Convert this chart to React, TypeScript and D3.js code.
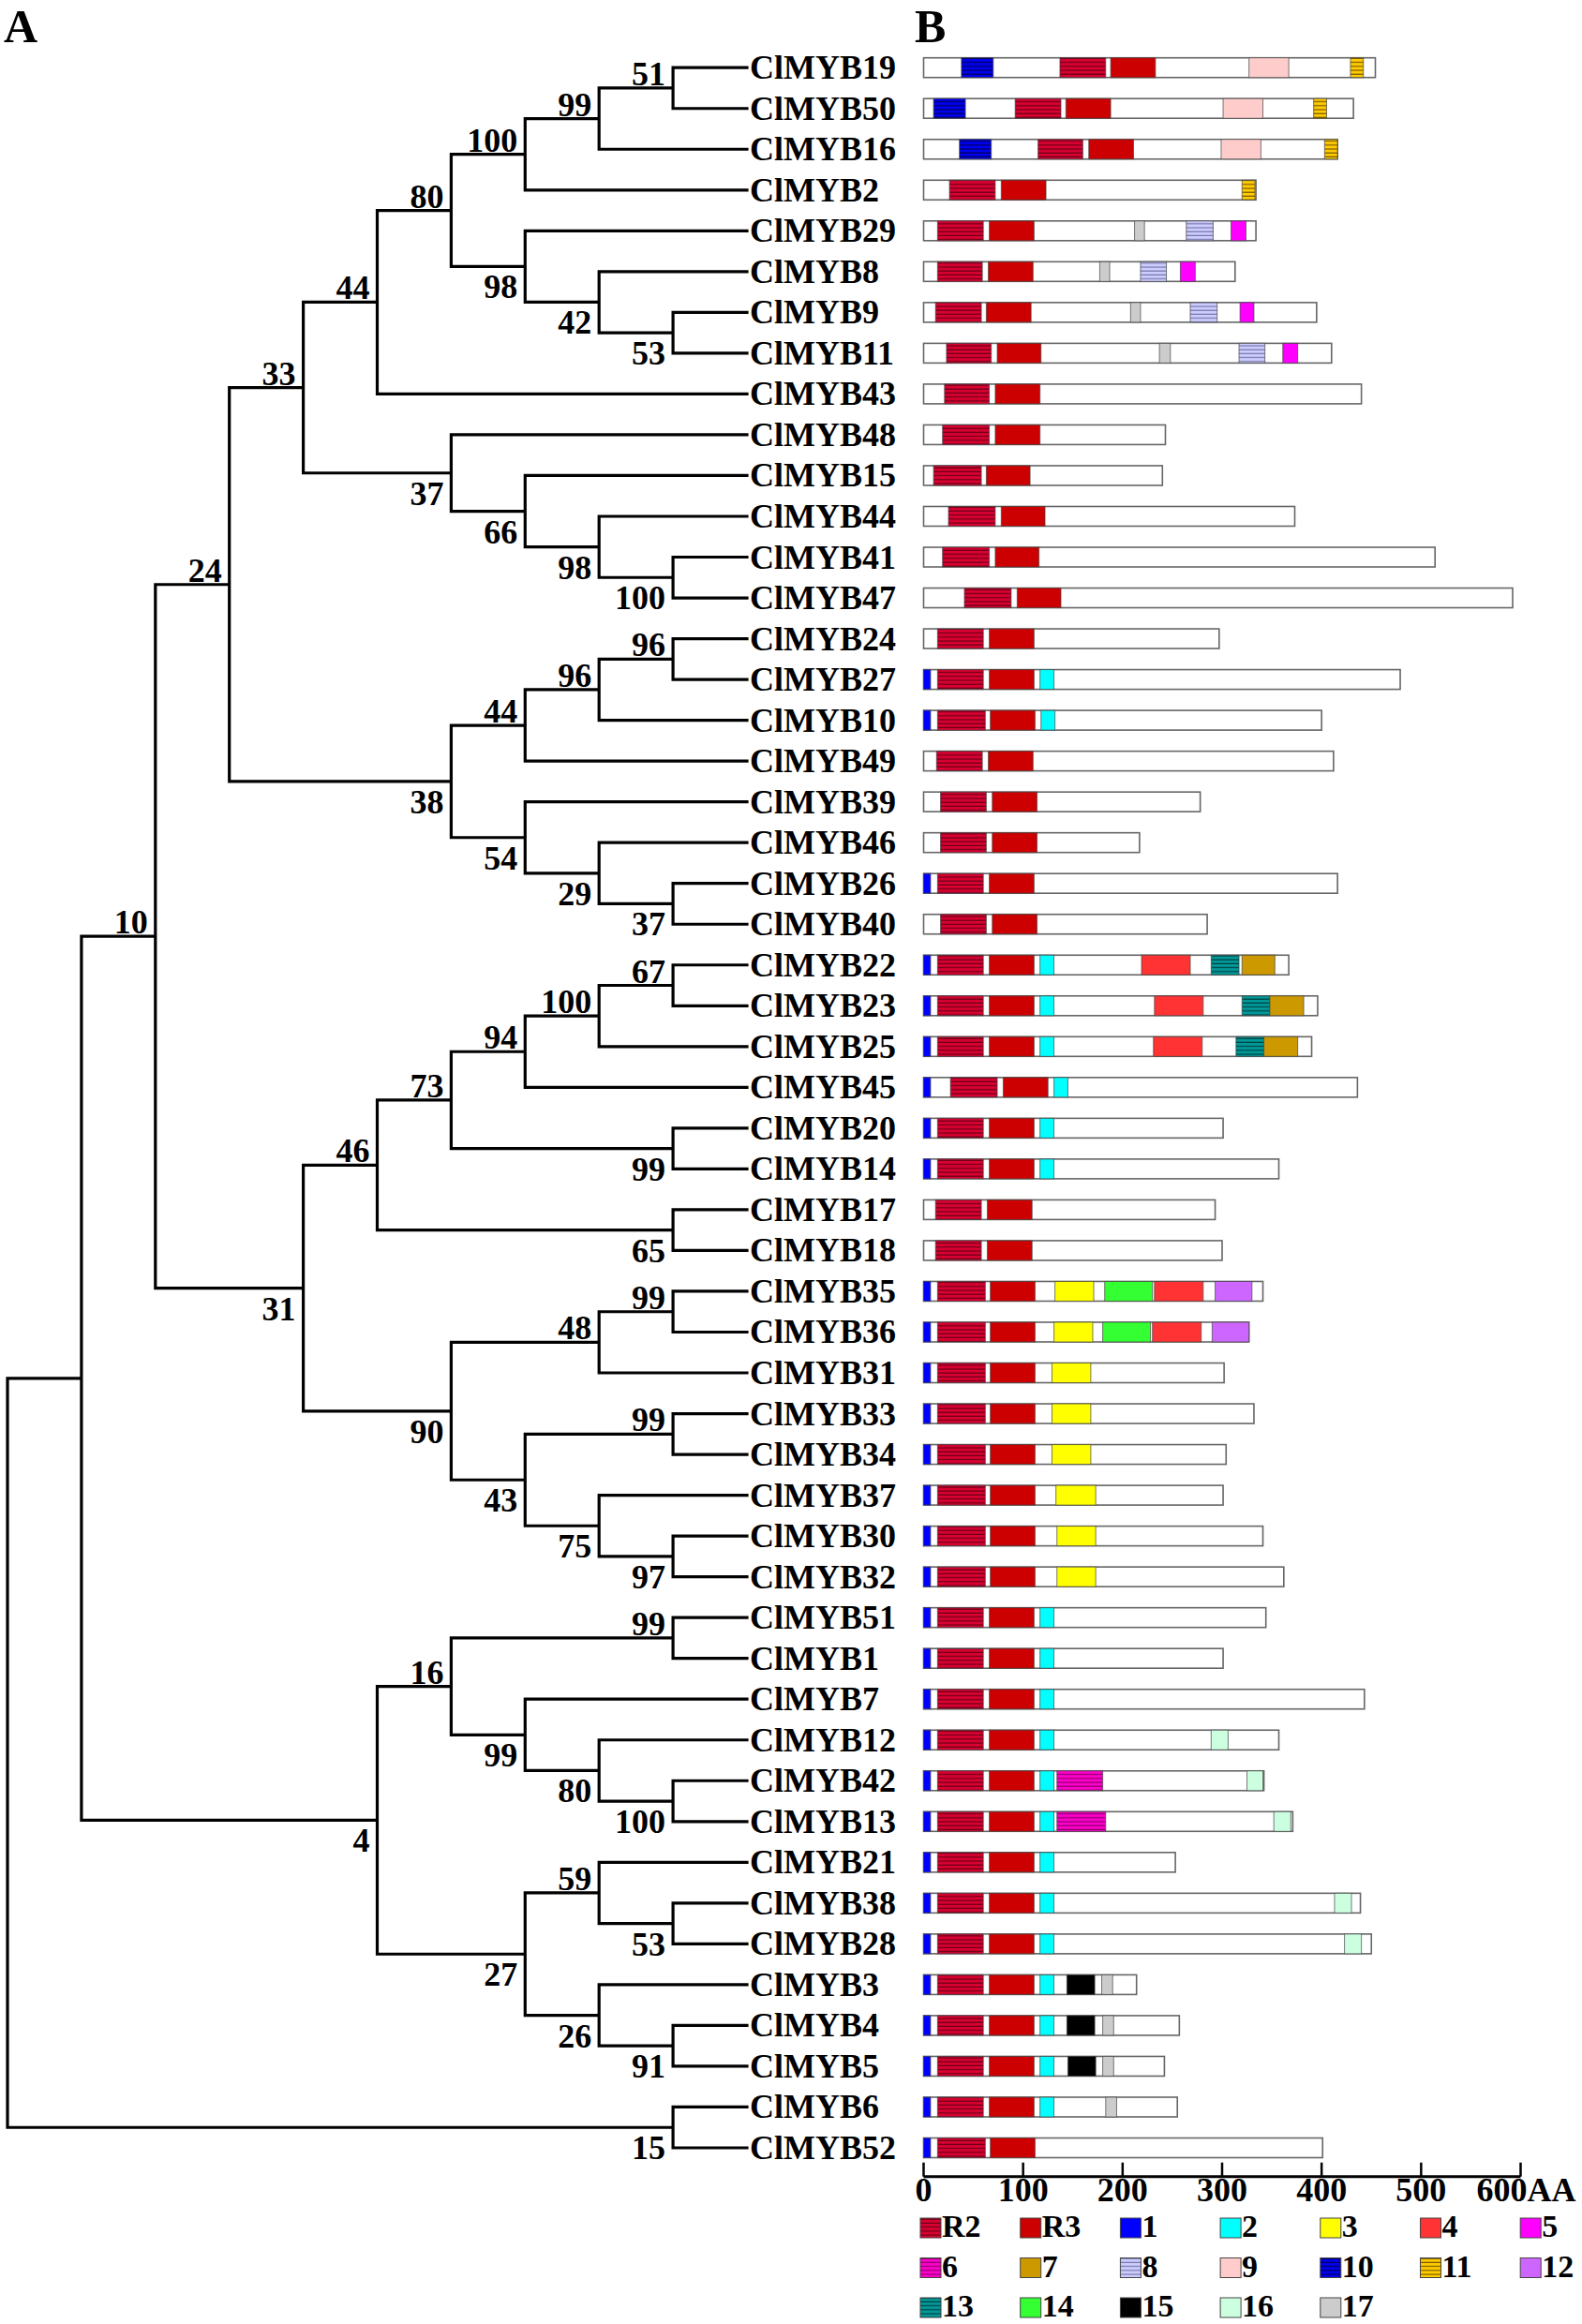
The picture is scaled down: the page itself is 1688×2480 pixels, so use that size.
import React from 'react';
import * as d3 from 'd3';

// ---------- Tree (Newick pieces with bootstrap values) ----------
const cladeA = "((((((ClMYB19,ClMYB50)51,ClMYB16)99,ClMYB2)100,(ClMYB29,(ClMYB8,(ClMYB9,ClMYB11)53)42)98)80,ClMYB43)44,(ClMYB48,(ClMYB15,(ClMYB44,(ClMYB41,ClMYB47)100)98)66)37)33";
const cladeB = "((((ClMYB24,ClMYB27)96,ClMYB10)96,ClMYB49)44,(ClMYB39,(ClMYB46,(ClMYB26,ClMYB40)37)29)54)38";
const cladeC = "((((ClMYB22,ClMYB23)67,ClMYB25)100,ClMYB45)94,(ClMYB20,ClMYB14)99)73";
const cladeD = "(((ClMYB35,ClMYB36)99,ClMYB31)48,((ClMYB33,ClMYB34)99,(ClMYB37,(ClMYB30,ClMYB32)97)75)43)90";
const cladeE = "((ClMYB51,ClMYB1)99,(ClMYB7,(ClMYB12,(ClMYB42,ClMYB13)100)80)99)16";
const cladeF = "((ClMYB21,(ClMYB38,ClMYB28)53)59,(ClMYB3,(ClMYB4,ClMYB5)91)26)27";
const newickTree = `((((${cladeA},${cladeB})24,((${cladeC},(ClMYB17,ClMYB18)65)46,${cladeD})31)10,(${cladeE},${cladeF})4),(ClMYB6,ClMYB52)15)`;

// ---------- Protein lengths (aa), in tree order ----------
const genes = ["ClMYB19","ClMYB50","ClMYB16","ClMYB2","ClMYB29","ClMYB8","ClMYB9","ClMYB11","ClMYB43","ClMYB48","ClMYB15","ClMYB44","ClMYB41","ClMYB47","ClMYB24","ClMYB27","ClMYB10","ClMYB49","ClMYB39","ClMYB46","ClMYB26","ClMYB40","ClMYB22","ClMYB23","ClMYB25","ClMYB45","ClMYB20","ClMYB14","ClMYB17","ClMYB18","ClMYB35","ClMYB36","ClMYB31","ClMYB33","ClMYB34","ClMYB37","ClMYB30","ClMYB32","ClMYB51","ClMYB1","ClMYB7","ClMYB12","ClMYB42","ClMYB13","ClMYB21","ClMYB38","ClMYB28","ClMYB3","ClMYB4","ClMYB5","ClMYB6","ClMYB52"];
const proteinLength = [454,432,416,334,334,313,395,410,440,243,240,373,514,592,297,479,400,412,278,217,416,285,367,396,390,436,301,357,293,300,341,327,302,332,304,301,341,362,344,301,443,357,342,371,253,439,450,214,257,242,255,401];

// ---------- Motif hits: [gene, motif, start, end] ----------
const motifHits: [string, string, number, number][] = [
  ["ClMYB19","10",38,70],["ClMYB19","R2",137,183],["ClMYB19","R3",188,233],["ClMYB19","9",327,367],["ClMYB19","11",429,442],
  ["ClMYB50","10",10,42],["ClMYB50","R2",92,138],["ClMYB50","R3",143,188],["ClMYB50","9",301,341],["ClMYB50","11",392,405],
  ["ClMYB16","10",36,68],["ClMYB16","R2",115,160],["ClMYB16","R3",166,211],["ClMYB16","9",299,339],["ClMYB16","11",403,416],
  ["ClMYB2","R2",26,72],["ClMYB2","R3",78,123],["ClMYB2","11",320,333],
  ["ClMYB29","R2",14,60],["ClMYB29","R3",66,111],["ClMYB29","17",212,222],["ClMYB29","8",264,291],["ClMYB29","5",309,324],
  ["ClMYB8","R2",14,59],["ClMYB8","R3",65,110],["ClMYB8","17",177,187],["ClMYB8","8",218,244],["ClMYB8","5",258,273],
  ["ClMYB9","R2",12,58],["ClMYB9","R3",63,108],["ClMYB9","17",208,218],["ClMYB9","8",268,295],["ClMYB9","5",318,332],
  ["ClMYB11","R2",23,68],["ClMYB11","R3",74,118],["ClMYB11","17",237,248],["ClMYB11","8",317,343],["ClMYB11","5",361,376],
  ["ClMYB43","R2",21,66],["ClMYB43","R3",72,117],
  ["ClMYB48","R2",19,66],["ClMYB48","R3",72,117],
  ["ClMYB15","R2",10,58],["ClMYB15","R3",63,107],
  ["ClMYB44","R2",25,72],["ClMYB44","R3",78,122],
  ["ClMYB41","R2",19,66],["ClMYB41","R3",72,116],
  ["ClMYB47","R2",41,88],["ClMYB47","R3",94,138],
  ["ClMYB24","R2",14,60],["ClMYB24","R3",66,111],
  ["ClMYB27","1",0,7],["ClMYB27","R2",14,60],["ClMYB27","R3",66,111],["ClMYB27","2",117,131],
  ["ClMYB10","1",0,7],["ClMYB10","R2",14,62],["ClMYB10","R3",67,112],["ClMYB10","2",118,132],
  ["ClMYB49","R2",13,59],["ClMYB49","R3",65,110],
  ["ClMYB39","R2",17,63],["ClMYB39","R3",69,114],
  ["ClMYB46","R2",17,63],["ClMYB46","R3",69,114],
  ["ClMYB26","1",0,7],["ClMYB26","R2",14,60],["ClMYB26","R3",66,111],
  ["ClMYB40","R2",17,63],["ClMYB40","R3",69,114],
  ["ClMYB22","1",0,7],["ClMYB22","R2",14,60],["ClMYB22","R3",66,111],["ClMYB22","2",117,131],["ClMYB22","4",219,268],["ClMYB22","13",289,317],["ClMYB22","7",320,353],
  ["ClMYB23","1",0,7],["ClMYB23","R2",14,60],["ClMYB23","R3",66,111],["ClMYB23","2",117,131],["ClMYB23","4",232,281],["ClMYB23","13",320,348],["ClMYB23","7",348,382],
  ["ClMYB25","1",0,7],["ClMYB25","R2",14,60],["ClMYB25","R3",66,111],["ClMYB25","2",117,131],["ClMYB25","4",231,280],["ClMYB25","13",314,342],["ClMYB25","7",342,376],
  ["ClMYB45","1",0,7],["ClMYB45","R2",27,74],["ClMYB45","R3",80,125],["ClMYB45","2",131,145],
  ["ClMYB20","1",0,7],["ClMYB20","R2",14,60],["ClMYB20","R3",66,111],["ClMYB20","2",117,131],
  ["ClMYB14","1",0,7],["ClMYB14","R2",14,60],["ClMYB14","R3",66,111],["ClMYB14","2",117,131],
  ["ClMYB17","R2",12,58],["ClMYB17","R3",64,109],
  ["ClMYB18","R2",12,58],["ClMYB18","R3",64,109],
  ["ClMYB35","1",0,7],["ClMYB35","R2",14,62],["ClMYB35","R3",67,112],["ClMYB35","3",132,171],["ClMYB35","14",182,230],["ClMYB35","4",232,281],["ClMYB35","12",293,330],
  ["ClMYB36","1",0,7],["ClMYB36","R2",14,62],["ClMYB36","R3",67,112],["ClMYB36","3",131,170],["ClMYB36","14",180,228],["ClMYB36","4",230,279],["ClMYB36","12",290,327],
  ["ClMYB31","1",0,7],["ClMYB31","R2",14,62],["ClMYB31","R3",67,112],["ClMYB31","3",129,168],
  ["ClMYB33","1",0,7],["ClMYB33","R2",14,62],["ClMYB33","R3",67,112],["ClMYB33","3",129,168],
  ["ClMYB34","1",0,7],["ClMYB34","R2",14,62],["ClMYB34","R3",67,112],["ClMYB34","3",129,168],
  ["ClMYB37","1",0,7],["ClMYB37","R2",14,62],["ClMYB37","R3",67,112],["ClMYB37","3",133,173],
  ["ClMYB30","1",0,7],["ClMYB30","R2",14,62],["ClMYB30","R3",67,112],["ClMYB30","3",134,173],
  ["ClMYB32","1",0,7],["ClMYB32","R2",14,62],["ClMYB32","R3",67,112],["ClMYB32","3",134,173],
  ["ClMYB51","1",0,7],["ClMYB51","R2",14,60],["ClMYB51","R3",66,111],["ClMYB51","2",117,131],
  ["ClMYB1","1",0,7],["ClMYB1","R2",14,60],["ClMYB1","R3",66,111],["ClMYB1","2",117,131],
  ["ClMYB7","1",0,7],["ClMYB7","R2",14,60],["ClMYB7","R3",66,111],["ClMYB7","2",117,131],
  ["ClMYB12","1",0,7],["ClMYB12","R2",14,60],["ClMYB12","R3",66,111],["ClMYB12","2",117,131],["ClMYB12","16",289,306],
  ["ClMYB42","1",0,7],["ClMYB42","R2",14,60],["ClMYB42","R3",66,111],["ClMYB42","2",117,131],["ClMYB42","6",134,180],["ClMYB42","16",325,341],
  ["ClMYB13","1",0,7],["ClMYB13","R2",14,60],["ClMYB13","R3",66,111],["ClMYB13","2",117,131],["ClMYB13","6",134,183],["ClMYB13","16",352,369],
  ["ClMYB21","1",0,7],["ClMYB21","R2",14,60],["ClMYB21","R3",66,111],["ClMYB21","2",117,131],
  ["ClMYB38","1",0,7],["ClMYB38","R2",14,60],["ClMYB38","R3",66,111],["ClMYB38","2",117,131],["ClMYB38","16",413,430],
  ["ClMYB28","1",0,7],["ClMYB28","R2",14,60],["ClMYB28","R3",66,111],["ClMYB28","2",117,131],["ClMYB28","16",423,440],
  ["ClMYB3","1",0,7],["ClMYB3","R2",14,60],["ClMYB3","R3",66,111],["ClMYB3","2",117,131],["ClMYB3","15",144,172],["ClMYB3","17",179,190],
  ["ClMYB4","1",0,7],["ClMYB4","R2",14,60],["ClMYB4","R3",66,111],["ClMYB4","2",117,131],["ClMYB4","15",144,172],["ClMYB4","17",180,191],
  ["ClMYB5","1",0,7],["ClMYB5","R2",14,60],["ClMYB5","R3",66,111],["ClMYB5","2",117,131],["ClMYB5","15",145,173],["ClMYB5","17",180,191],
  ["ClMYB6","1",0,7],["ClMYB6","R2",14,60],["ClMYB6","R3",66,111],["ClMYB6","2",117,131],["ClMYB6","17",183,194],
  ["ClMYB52","1",0,7],["ClMYB52","R2",14,62],["ClMYB52","R3",67,112],
];

// ---------- Motif legend ----------
const motifNames = ["R2","R3","1","2","3","4","5","6","7","8","9","10","11","12","13","14","15","16","17"];
const motifColors = ["#d80030","#cc0000","#0000ff","#00ffff","#ffff00","#ff3333","#ff00ff","#ff00cc","#cc9900","#ccccff","#ffcccc","#0000ee","#ffcc00","#cc66ff","#009999","#33ff33","#000000","#ccffe0","#cccccc"];
const motifStripe = ["#6a0018",null,null,null,null,null,null,"#880066",null,"#7777aa",null,"#000055","#7a5800",null,"#003f3f",null,null,null,null];
const axisTicks = [0,100,200,300,400,500,600];
const axisUnit = "AA";

type TNode = { name: string; children: TNode[] };
function parseNewick(src: string): TNode {
  const s = src.replace(/\s+/g, '').replace(/;$/, '');
  let i = 0;
  function node(): TNode {
    const n: TNode = { name: '', children: [] };
    if (s[i] === '(') {
      i++;
      n.children.push(node());
      while (s[i] === ',') { i++; n.children.push(node()); }
      i++;
    }
    let name = '';
    while (i < s.length && !',()'.includes(s[i])) name += s[i++];
    n.name = name;
    return n;
  }
  return node();
}

const FONT = '"Liberation Serif","Times New Roman",Times,serif';

export default function App() {
  const W = 1688, H = 2480;
  const tipX = 797;
  const rowY = d3.scaleLinear().domain([0, genes.length - 1]).range([72.2, 2292]);
  const root = d3.hierarchy(parseNewick(newickTree), (d: TNode) => (d.children.length ? d.children : null));
  const xH = d3.scaleLinear().domain([0, root.height]).range([tipX, 8]);
  const pos = new Map<any, { x: number; y: number }>();
  root.leaves().forEach((l) => pos.set(l, { x: tipX, y: rowY(genes.indexOf(l.data.name)) }));
  root.eachAfter((n) => {
    if (n.children) {
      const ys = n.children.map((c) => pos.get(c)!.y);
      pos.set(n, { x: xH(n.height), y: (ys[0] + ys[ys.length - 1]) / 2 });
    }
  });

  let treePath = '';
  const boot: { x: number; y: number; t: string; above: boolean }[] = [];
  root.each((n) => {
    const p = pos.get(n)!;
    if (n.parent) {
      const pp = pos.get(n.parent)!;
      treePath += `M${pp.x},${p.y}H${p.x}`;
    }
    if (n.children) {
      const c0 = pos.get(n.children[0])!;
      const c1 = pos.get(n.children[n.children.length - 1])!;
      treePath += `M${p.x},${c0.y}V${c1.y}`;
      if (n.data.name && n.parent) {
        boot.push({ x: p.x, y: p.y, t: n.data.name, above: n.parent.children![0] === n });
      }
    }
  });

  const xAA = d3.scaleLinear().domain([0, 600]).range([985.5, 1622.5]);
  const barH = 21;
  const motifIndex = new Map(motifNames.map((m, i) => [m, i]));
  const fillFor = (i: number) => (motifStripe[i] ? `url(#pat${i})` : motifColors[i]);
  const axisY = 2322.7;
  const lastTick = axisTicks[axisTicks.length - 1];

  return (
    <svg width={W} height={H} style={{ position: 'absolute', left: 0, top: 0, background: '#fff' }} fontFamily={FONT}>
      <defs>
        {motifNames.map((m, i) =>
          motifStripe[i] ? (
            <pattern key={m} id={`pat${i}`} width={6} height={4.2} patternUnits="userSpaceOnUse">
              <rect width={6} height={4.2} fill={motifColors[i]} />
              <rect y={3} width={6} height={1.3} fill={motifStripe[i]!} />
            </pattern>
          ) : null
        )}
      </defs>
      <rect width={W} height={H} fill="#fff" />
      <text x={4} y={45} fontSize={50} fontWeight="bold">A</text>
      <text x={976} y={45} fontSize={50} fontWeight="bold">B</text>

      {/* tree */}
      <path d={treePath} fill="none" stroke="#000" strokeWidth={3.2} strokeLinecap="square" />
      {boot.map((b, i) => (
        <text key={i} x={b.x - 8} y={b.above ? b.y - 3 : b.y + 34} textAnchor="end" fontSize={36} fontWeight="bold">{b.t}</text>
      ))}
      {genes.map((g, i) => (
        <text key={g} x={tipX + 3} y={rowY(i) + 12} fontSize={36} fontWeight="bold">{g}</text>
      ))}

      {/* motif bars */}
      {genes.map((g, i) => (
        <rect key={g} x={xAA(0)} y={rowY(i) - barH / 2} width={xAA(proteinLength[i]) - xAA(0)} height={barH} fill="#fff" stroke="#666" strokeWidth={1.6} />
      ))}
      {motifHits.map(([g, m, s, e], k) => {
        const gi = genes.indexOf(g);
        const mi = motifIndex.get(m)!;
        return (
          <rect key={k} x={xAA(s)} y={rowY(gi) - barH / 2} width={xAA(e) - xAA(s)} height={barH} fill={fillFor(mi)} stroke="#444" strokeOpacity={0.7} strokeWidth={1} />
        );
      })}

      {/* axis */}
      <line x1={xAA(0)} x2={xAA(lastTick)} y1={axisY} y2={axisY} stroke="#000" strokeWidth={3} />
      {axisTicks.map((t) => (
        <g key={t}>
          <line x1={xAA(t)} x2={xAA(t)} y1={axisY} y2={axisY - 15} stroke="#000" strokeWidth={2.5} />
          <text x={t === lastTick ? xAA(t) + 6 : xAA(t)} y={2349} textAnchor="middle" fontSize={36} fontWeight="bold">
            {t === lastTick ? `${t}${axisUnit}` : t}
          </text>
        </g>
      ))}

      {/* legend */}
      {motifNames.map((m, i) => {
        const col = i % 7, row = Math.floor(i / 7);
        const x = 982 + col * 106.7;
        const y = 2367 + row * 42.5;
        return (
          <g key={m}>
            <rect x={x} y={y} width={22} height={21} fill={fillFor(i)} stroke="#444" strokeWidth={1} />
            <text x={x + 23} y={y + 20} fontSize={34} fontWeight="bold">{m}</text>
          </g>
        );
      })}
    </svg>
  );
}
